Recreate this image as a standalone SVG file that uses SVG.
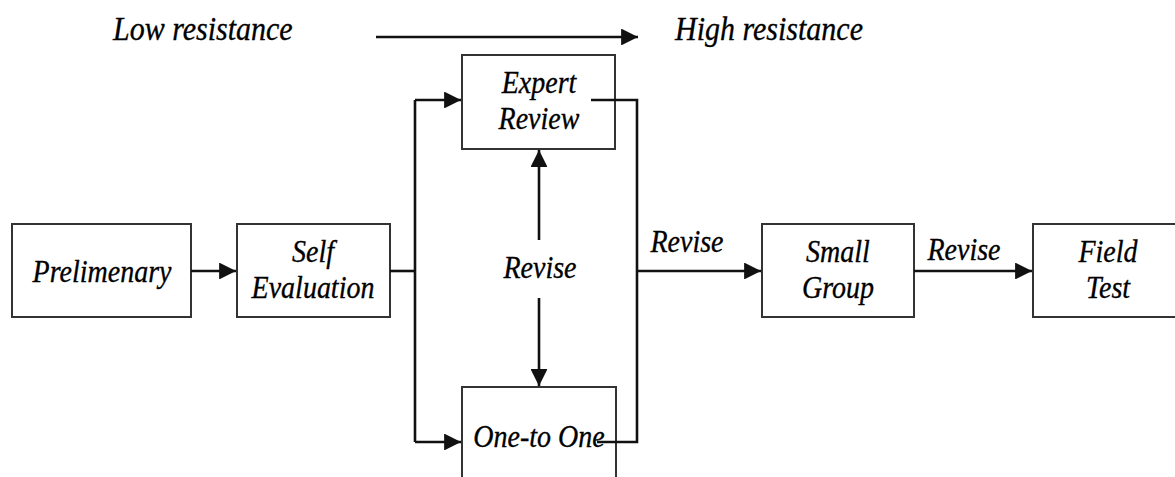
<svg xmlns="http://www.w3.org/2000/svg" width="1175" height="477" viewBox="0 0 1175 477">
<style>
.box{fill:#fff;stroke:#333;stroke-width:2}
.t{font-family:"Liberation Serif","Times New Roman",serif;font-style:italic;font-size:28px;fill:#000;stroke:#000;stroke-width:0.3;text-anchor:middle}
.h{font-size:30px;text-anchor:start}
.c{fill:none;stroke:#111;stroke-width:2.6}
</style>
<defs>
<marker id="ah" viewBox="0 0 10 10" refX="10" refY="5" markerWidth="6.5" markerHeight="6.5" markerUnits="strokeWidth" orient="auto">
<path d="M0,0 L10,5 L0,10 z" fill="#111"/>
</marker>
</defs>
<rect width="1175" height="477" fill="#fff"/>
<g id="header">
<text class="t h" transform="translate(113,40) scale(1,1.12)">Low resistance</text>
<text class="t h" transform="translate(675,40) scale(1,1.12)">High resistance</text>
<line class="c" x1="376" y1="37" x2="638" y2="37" marker-end="url(#ah)"/>
</g>
<g id="prelimenary">
<rect class="box" x="12" y="224" width="179" height="93"/>
<text class="t" transform="translate(102,282) scale(1,1.12)">Prelimenary</text>
</g>
<g id="self-evaluation">
<rect class="box" x="237" y="224" width="153" height="93"/>
<text class="t" transform="translate(313,262) scale(1,1.12)">Self</text>
<text class="t" transform="translate(313,298) scale(1,1.12)">Evaluation</text>
</g>
<g id="expert-review">
<rect class="box" x="462" y="55" width="153" height="94"/>
<text class="t" transform="translate(539,93) scale(1,1.12)">Expert</text>
<text class="t" transform="translate(539,129) scale(1,1.12)">Review</text>
</g>
<g id="one-to-one">
<rect class="box" x="462" y="387" width="154" height="100"/>
<text class="t" transform="translate(539,447) scale(1,1.12)">One-to One</text>
</g>
<g id="revise-center">
<text class="t" transform="translate(540,278) scale(1,1.12)">Revise</text>
</g>
<g id="small-group">
<rect class="box" x="762" y="224" width="152" height="93"/>
<text class="t" transform="translate(838,262) scale(1,1.12)">Small</text>
<text class="t" transform="translate(838,298) scale(1,1.12)">Group</text>
</g>
<g id="field-test">
<rect class="box" x="1033" y="224" width="150" height="93"/>
<text class="t" transform="translate(1108,262) scale(1,1.12)">Field</text>
<text class="t" transform="translate(1108,298) scale(1,1.12)">Test</text>
</g>
<g id="connectors">
<line class="c" x1="191" y1="271" x2="236" y2="271" marker-end="url(#ah)"/>
<polyline class="c" points="390,271 415,271"/>
<polyline class="c" points="415,100 415,442"/>
<line class="c" x1="415" y1="100" x2="461" y2="100" marker-end="url(#ah)"/>
<line class="c" x1="415" y1="442" x2="461" y2="442" marker-end="url(#ah)"/>
<line class="c" x1="539" y1="240" x2="539" y2="150" marker-end="url(#ah)"/>
<line class="c" x1="539" y1="298" x2="539" y2="386" marker-end="url(#ah)"/>
<polyline class="c" points="591,100 637,100 637,442 597,442"/>
<line class="c" x1="637" y1="271" x2="761" y2="271" marker-end="url(#ah)"/>
<text class="t" transform="translate(687,252) scale(1,1.12)">Revise</text>
<line class="c" x1="914" y1="271" x2="1032" y2="271" marker-end="url(#ah)"/>
<text class="t" transform="translate(964,260) scale(1,1.12)">Revise</text>
</g>
</svg>
